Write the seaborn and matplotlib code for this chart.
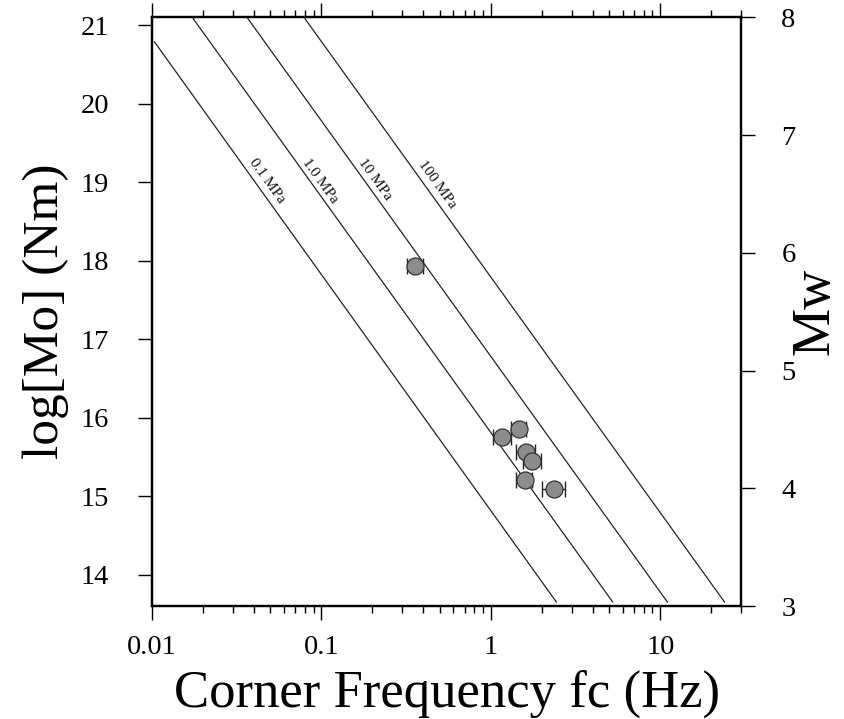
import numpy as np
import pandas as pd
import matplotlib
matplotlib.use("Agg")
import matplotlib.pyplot as plt
import seaborn as sns

# Events: corner frequency (Hz), error (Hz), log moment (Nm)
fc = [1.46, 1.17, 1.61, 1.76, 1.58, 2.37, 0.358]
fc_err = [0.15, 0.14, 0.20, 0.22, 0.18, 0.37, 0.04]
log_mo = [15.85, 15.75, 15.56, 15.45, 15.21, 15.09, 17.93]

# Constant stress drop lines (end points)
stress_labels = ["0.1 MPa", "1.0 MPa", "10 MPa", "100 MPa"]
line_fc_start = [0.0103, 0.01725, 0.0363, 0.0788]
line_fc_end = [2.44, 5.25, 11.04, 24.0]
line_mo_start = [20.79, 21.1, 21.1, 21.1]
line_mo_end = [13.65, 13.65, 13.65, 13.65]
# label anchor positions
label_fc = [0.0477, 0.098, 0.207, 0.48]
label_mo = [19.01, 19.01, 19.04, 18.97]

sns.set_theme(style="ticks")
plt.rcParams["font.family"] = ["Liberation Serif", "DejaVu Serif"]
plt.rcParams.update({"text.color": "black", "axes.labelcolor": "black",
                     "xtick.color": "black", "ytick.color": "black"})

fig = plt.figure(figsize=(8.45, 7.19), dpi=100)
ax = fig.add_axes([0.18, 0.157, 0.697, 0.819])

lines = pd.DataFrame({
    "label": np.repeat(stress_labels, 2),
    "fc": np.ravel(np.column_stack([line_fc_start, line_fc_end])),
    "logmo": np.ravel(np.column_stack([line_mo_start, line_mo_end])),
})
sns.lineplot(data=lines, x="fc", y="logmo", units="label", estimator=None,
             color="#222222", linewidth=0.9, ax=ax, sort=False)

ax.errorbar(fc, log_mo, xerr=fc_err, fmt="none", ecolor="#222222",
            elinewidth=1.0, capsize=6, capthick=1.0, zorder=3)
events = pd.DataFrame({"fc": fc, "logmo": log_mo})
sns.scatterplot(data=events, x="fc", y="logmo", s=150, color="#8c8c8c",
                edgecolor="#333333", linewidth=0.9, zorder=4, ax=ax)

for lab, x, y in zip(stress_labels, label_fc, label_mo):
    ax.text(x, y, lab, rotation=-54.2, rotation_mode="anchor",
            ha="center", va="center", fontsize=11, color="#111111")

ax.set_xscale("log")
ax.set_xlim(0.01, 30)
ax.set_ylim(13.6, 21.1)
ax.set_xticks([0.01, 0.1, 1, 10])
ax.set_xticklabels(["0.01", "0.1", "1", "10"])
ax.set_yticks([14, 15, 16, 17, 18, 19, 20, 21])
ax.set_yticklabels(["14", "15", "16", "17", "18", "19", "20", "21"])
ax.tick_params(axis="x", which="both", top=True, direction="out", labelsize=20.5, pad=11)
ax.tick_params(axis="x", which="major", length=10, width=1.0)
ax.tick_params(axis="x", which="minor", length=5, width=1.0)
ax.tick_params(axis="y", which="major", length=10, width=1.0, labelsize=20.5, pad=21)
ax.tick_params(axis="y", which="minor", left=False)

ax.set_xlabel("Corner Frequency fc (Hz)", fontsize=38, labelpad=7)
ax.set_ylabel("log[Mo] (Nm)", fontsize=37, labelpad=8)

ax2 = ax.twinx()
ax2.set_ylim(3, 8)
ax2.set_yticks([3, 4, 5, 6, 7, 8])
ax2.tick_params(axis="y", length=10, width=1.0, labelsize=20.5, pad=19)
ax2.set_ylabel("Mw", fontsize=39, labelpad=-4)

for a in (ax, ax2):
    for sp in a.spines.values():
        sp.set_linewidth(1.6)
        sp.set_color("black")

fig.savefig("out.png", dpi=100)
